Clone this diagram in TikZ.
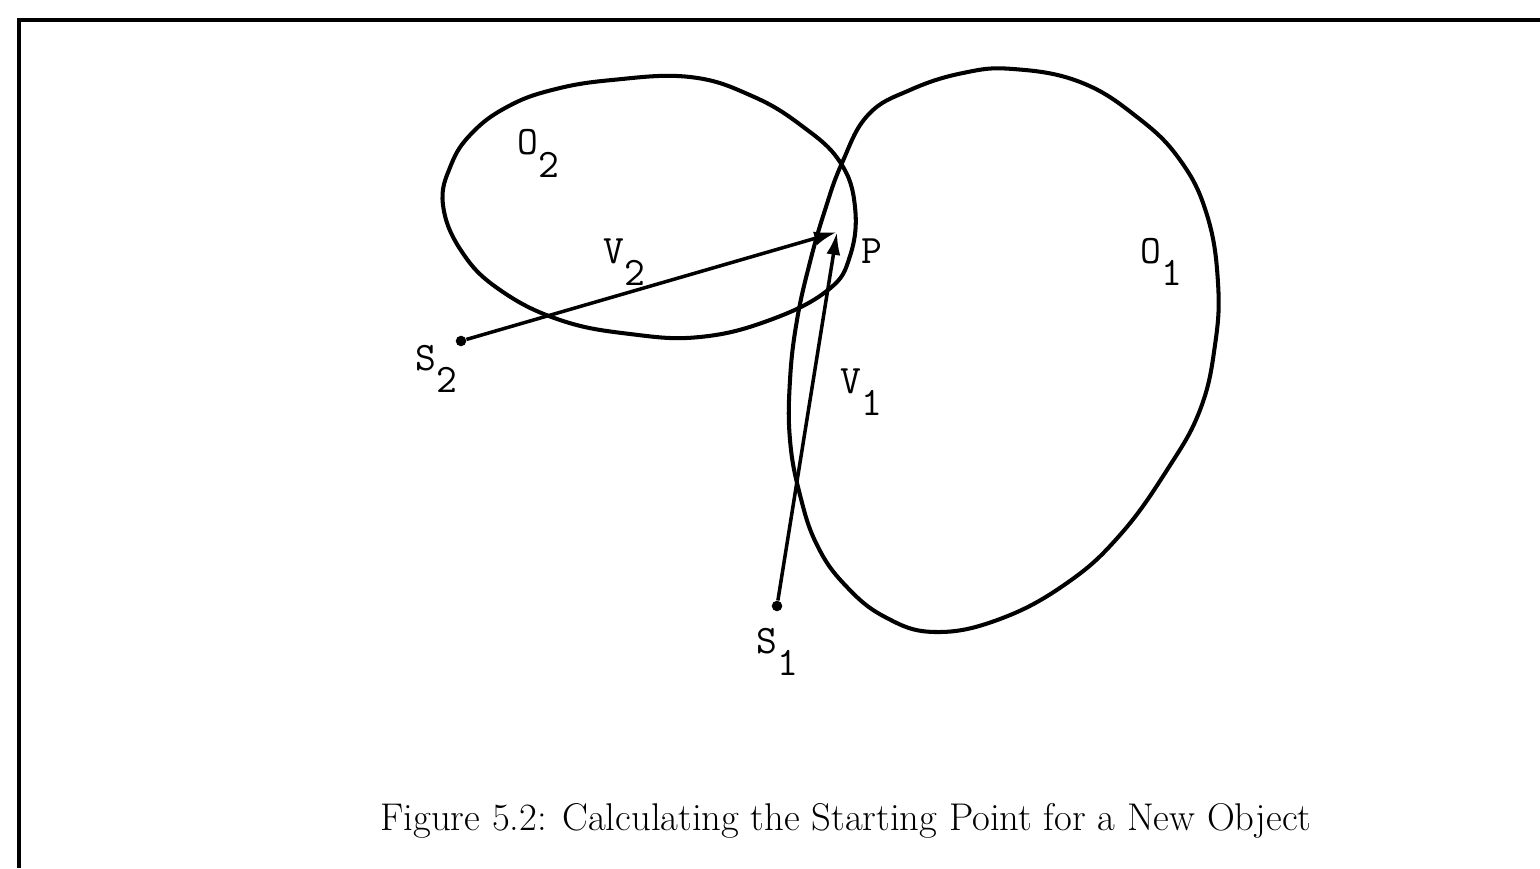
\documentclass[tikz,border=0pt]{standalone}
\usepackage{tikz}
\usetikzlibrary{arrows.meta,positioning}
\tikzset{
  framing/.style={line width=2pt},
  objline/.style={line width=2.3pt,line join=round},
  vecline/.style={line width=2pt,-{Latex[length=13pt,width=8pt]}},
  dotmark/.style={circle,fill,inner sep=0pt,minimum size=6pt},
  lbl/.style={font=\fontsize{23}{27}\selectfont\ttfamily,anchor=base west,inner sep=0pt},
  capt/.style={font=\fontsize{22}{26}\selectfont,anchor=base,inner sep=0pt}
}
\newcommand{\sublbl}[2]{#1\raisebox{-.55em}{#2}}

\begin{document}
\begin{tikzpicture}[x=.02cm,y=-.02cm]
  \useasboundingbox (0,0) rectangle (1540,868);
  \draw[framing] (19,868) -- (19,20) -- (1540,20);
  % object O2
  \draw[objline] plot[smooth cycle,tension=.7] coordinates {
    (443,205) (451,165) (472,133) (507,107) (552,90) (612,80) (690,77)
    (752,96) (802,126) (840,162) (855,207) (850,256) (828,290) (770,320)
    (700,337) (630,334) (560,320) (500,290) (462,252)};
  % object O1
  \draw[objline] plot[smooth cycle,tension=.7] coordinates {
    (842,163) (868,115) (910,90) (963,73) (1013,69) (1080,82) (1137,117)
    (1180,160) (1207,215) (1218,283) (1215,345) (1200,410) (1167,470)
    (1120,535) (1067,583) (1000,619) (935,632) (885,617) (845,585)
    (817,545) (800,495) (790,440) (790,380) (797,320) (810,262) (825,210)};
  % start points and vectors
  \node[dotmark] (s2) at (461,341) {};
  \node[dotmark] (s1) at (777,606) {};
  \coordinate (p) at (837,232);
  \draw[vecline] (s2) -- (p);
  \draw[vecline] (s1) -- (p);
  % labels
  \node[lbl] (o2lbl) at (517,155) {\sublbl{O}{2}};
  \node[lbl] (v2lbl) at (603,263) {\sublbl{V}{2}};
  \node[lbl] (s2lbl) at (415,370) {\sublbl{S}{2}};
  \node[lbl] (plbl) at (861,263) {P};
  \node[lbl] (o1lbl) at (1140,263) {\sublbl{O}{1}};
  \node[lbl] (v1lbl) at (840,393) {\sublbl{V}{1}};
  \node[lbl] (s1lbl) at (756,653) {\sublbl{S}{1}};
  \node[capt] (caption) at (846,830)
       {Figure 5.2: Calculating the Starting Point for a New Object};
\end{tikzpicture}
\end{document}
